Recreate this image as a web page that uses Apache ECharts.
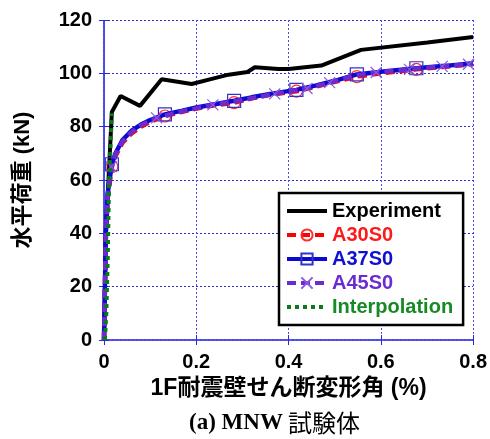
<!DOCTYPE html>
<html>
<head>
<meta charset="utf-8">
<script src="https://cdn.jsdelivr.net/npm/echarts@6/dist/echarts.min.js"></script>
<style>html,body{margin:0;padding:0;background:#fff;}#c{width:490px;height:439px;}</style>
</head>
<body>
<div id="c"></div>
<script>
// ---- data ----
const xTicks = [0, 0.2, 0.4, 0.6, 0.8];
const yTicks = [0, 20, 40, 60, 80, 100, 120];

const expX = [0, 0.004, 0.017, 0.036, 0.078, 0.125, 0.19, 0.24, 0.27, 0.311, 0.327, 0.378, 0.40, 0.471, 0.557, 0.701, 0.80];
const expY = [0, 40, 85.5, 91.5, 87.8, 97.8, 96.0, 98.2, 99.5, 100.5, 102.3, 101.6, 101.6, 102.9, 108.8, 111.6, 113.6];

const anaX = [0, 0.002, 0.004, 0.008, 0.017, 0.025, 0.04, 0.06, 0.08, 0.1, 0.132, 0.17, 0.2, 0.24, 0.282, 0.32, 0.36, 0.417, 0.46, 0.5, 0.548, 0.6, 0.677, 0.74, 0.8];
const a37Y = [0, 20, 40, 55, 65.9, 70, 75, 78.5, 80.8, 82.5, 84.6, 86.0, 87.2, 88.4, 89.7, 91.0, 92.3, 93.8, 95.5, 97.2, 99.6, 100.6, 101.9, 102.8, 103.8];
const a30Y = [0, 19, 38, 53, 65.0, 69, 74, 77.5, 80.0, 81.8, 84.0, 85.6, 86.8, 88.0, 89.0, 90.6, 92.0, 93.3, 95.0, 96.8, 98.8, 100.0, 101.5, 102.5, 103.4];
const a30Marks = [4, 10, 14, 17, 20, 22];
const a37Marks = [4, 10, 14, 17, 20, 22];

const a45X = [0, 0.002, 0.004, 0.008, 0.016, 0.025, 0.04, 0.06, 0.08, 0.114, 0.17, 0.236, 0.3, 0.37, 0.44, 0.489, 0.545, 0.59, 0.662, 0.733, 0.79, 0.8];
const a45Y = [0, 20, 39, 54, 65.0, 69.5, 74.5, 78.0, 80.5, 83.3, 85.8, 88.2, 90.0, 92.3, 94.3, 96.5, 99.2, 100.3, 101.5, 102.6, 103.4, 103.6];
const a45Marks = [4, 9, 11, 13, 14, 15, 17, 18, 19, 20];

const intX = [0.002, 0.005, 0.008, 0.011, 0.014, 0.017];
const intY = [0, 10, 30, 59, 72, 85];

// ---- build ----
const FONT = '"Liberation Sans", Arial, "Noto Sans CJK JP", sans-serif';
function pts(xs, ys, marks) {
  return xs.map((x, i) => {
    const d = { value: [x, ys[i]] };
    if (marks && marks.indexOf(i) < 0) d.symbol = 'none';
    return d;
  });
}
const AX = '#2a2ad8';
const HIDE = { color: 'rgba(0,0,0,0)', borderColor: 'rgba(0,0,0,0)', borderWidth: 0 };
const chart = echarts.init(document.getElementById('c'), null, { renderer: 'canvas' });
const xTickFmt = v => (v === 0 ? '0' : String(Math.round(v * 10) / 10));

chart.setOption({
  animation: false,
  backgroundColor: '#ffffff',
  grid: { left: 104, top: 20, width: 370, height: 320, containLabel: false },
  xAxis: [{
    type: 'value', min: xTicks[0], max: xTicks[xTicks.length - 1], interval: 0.2,
    name: '1F耐震壁せん断変形角 (%)', nameLocation: 'middle', nameGap: 36,
    nameTextStyle: { fontFamily: FONT, fontWeight: 'bold', fontSize: 23, color: '#000' },
    axisLine: { show: true, lineStyle: { color: '#4a4ae8', width: 2, type: 'dotted' } },
    axisTick: { show: true, inside: true, length: 5, lineStyle: { color: AX, width: 1 } },
    axisLabel: { formatter: xTickFmt, fontFamily: FONT, fontWeight: 'bold', fontSize: 20, color: '#000', margin: 12 },
    splitLine: { show: true, lineStyle: { color: '#4a4ae8', width: 1, type: [2, 2] } }
  }, {
    type: 'value', position: 'top', min: 0, max: 0.8, interval: 0.2,
    axisLine: { show: true, lineStyle: { color: '#4a4ae8', width: 2, type: 'dotted' } },
    axisTick: { show: true, inside: true, length: 5, lineStyle: { color: AX, width: 1 } },
    axisLabel: { show: false }, splitLine: { show: false }
  }],
  yAxis: [{
    type: 'value', min: yTicks[0], max: yTicks[yTicks.length - 1], interval: 20,
    name: '水平荷重 (kN)', nameLocation: 'middle', nameGap: 70,
    nameTextStyle: { fontFamily: FONT, fontWeight: 'bold', fontSize: 22, color: '#000' },
    axisLine: { show: true, lineStyle: { color: '#4a4ae8', width: 2, type: 'dotted' } },
    axisTick: { show: true, inside: true, length: 5, lineStyle: { color: AX, width: 1 } },
    axisLabel: { fontFamily: FONT, fontWeight: 'bold', fontSize: 20, color: '#000', margin: 12 },
    splitLine: { show: true, lineStyle: { color: '#2a2ad0', width: 1, type: [2, 2] } }
  }, {
    type: 'value', position: 'right', min: 0, max: 120, interval: 20,
    axisLine: { show: true, lineStyle: { color: '#4a4ae8', width: 2, type: 'dotted' } },
    axisTick: { show: true, inside: true, length: 5, lineStyle: { color: AX, width: 1 } },
    axisLabel: { show: false }, splitLine: { show: false }
  }],
  legend: {
    orient: 'vertical', left: 279, top: 193,
    padding: [8, 10, 8, 6], itemGap: 4, itemWidth: 40, itemHeight: 14,
    backgroundColor: '#fff', borderColor: '#000', borderWidth: 2.5, borderRadius: 0,
    textStyle: { fontFamily: FONT, fontWeight: 'bold', fontSize: 20 },
    data: [
      { name: 'Experiment', textStyle: { color: '#000000' }, itemStyle: HIDE, lineStyle: { width: 4 } },
      { name: 'A30S0', textStyle: { color: '#ff1a1a' }, lineStyle: { width: 4 } },
      { name: 'A37S0', textStyle: { color: '#1010d0' }, lineStyle: { width: 4 } },
      { name: 'A45S0', textStyle: { color: '#6a2bd0' }, lineStyle: { width: 4 } },
      { name: 'Interpolation', textStyle: { color: '#158a25' }, itemStyle: HIDE, lineStyle: { width: 4 } }
    ]
  },
  title: {
    text: '{a|(a) MNW} {b|試験体}', left: 184, top: 406,
    textStyle: {
      rich: {
        a: { fontFamily: '"Liberation Serif", "Times New Roman", serif', fontWeight: 'bold', fontSize: 23, color: '#000' },
        b: { fontFamily: '"Noto Sans CJK JP", sans-serif', fontWeight: 'normal', fontSize: 24, color: '#000' }
      }
    }
  },
  series: [
    {
      name: 'Experiment', type: 'line', z: 2, symbol: 'none',
      lineStyle: { color: '#000', width: 4 }, itemStyle: { color: '#000' },
      data: pts(expX, expY)
    },
    {
      name: 'A30S0', type: 'line', z: 3, symbol: 'circle', symbolSize: 12, showAllSymbol: true,
      lineStyle: { color: '#ff0000', width: 4.5, type: [9, 5] },
      itemStyle: { color: 'rgba(255,255,255,0)', borderColor: '#ff3030', borderWidth: 1.2 },
      data: pts(anaX, a30Y, a30Marks)
    },
    {
      name: 'A37S0', type: 'line', z: 4, symbol: 'rect', symbolSize: 13, showAllSymbol: true,
      lineStyle: { color: '#0a0ad0', width: 4.5 },
      itemStyle: { color: 'rgba(255,255,255,0)', borderColor: '#3030d0', borderWidth: 1.2 },
      data: pts(anaX, a37Y, a37Marks)
    },
    {
      name: 'A45S0', type: 'line', z: 5, symbol: 'path://M0,0L10,10M10,0L0,10', symbolSize: 11, showAllSymbol: true,
      lineStyle: { color: '#6a2bd0', width: 4.5, type: [9, 5] },
      itemStyle: { color: 'rgba(255,255,255,0)', borderColor: '#8a5ae0', borderWidth: 1.2 },
      data: pts(a45X, a45Y, a45Marks)
    },
    {
      name: 'Interpolation', type: 'line', z: 6, symbol: 'none',
      lineStyle: { color: '#0a7a1a', width: 4, type: [4, 4] }, itemStyle: { color: '#0a7a1a' },
      data: pts(intX, intY)
    }
  ]
});
</script>
</body>
</html>
